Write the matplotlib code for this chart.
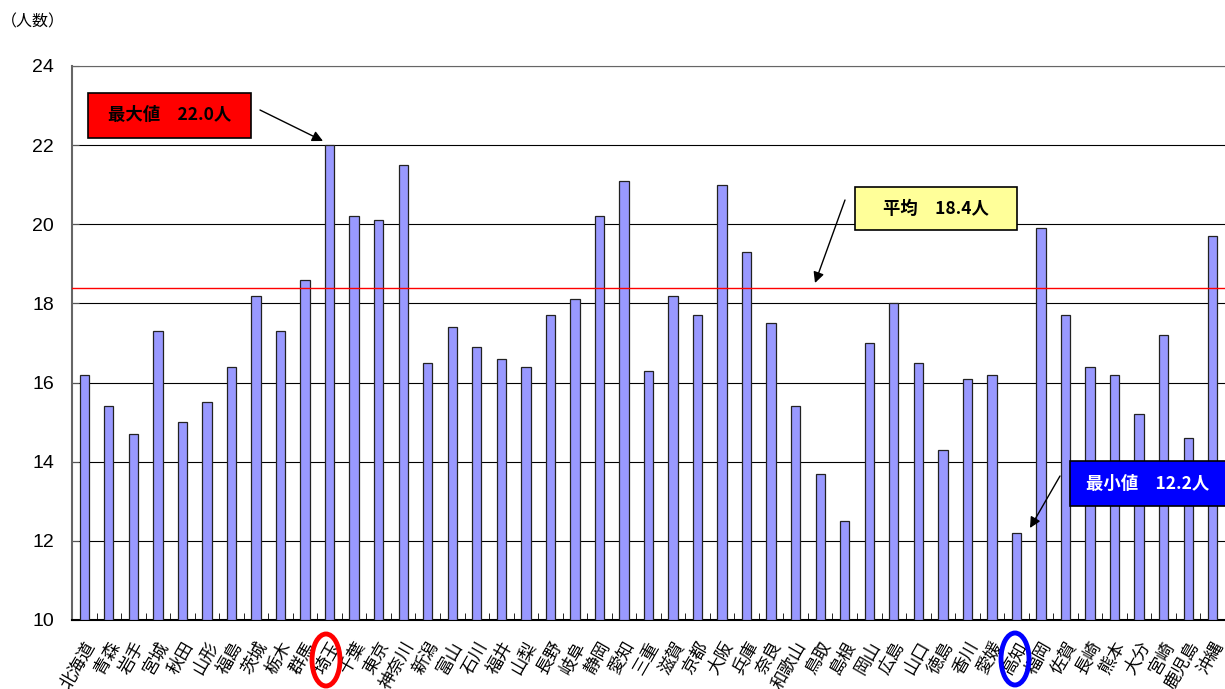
import matplotlib.pyplot as plt
import numpy as np
from matplotlib.patches import Rectangle, Ellipse
from matplotlib.transforms import ScaledTranslation

plt.rcParams['font.family'] = ['Noto Sans CJK JP', 'DejaVu Sans']

prefs = ["北海道", "青森", "岩手", "宮城", "秋田", "山形", "福島", "茨城", "栃木", "群馬",
         "埼玉", "千葉", "東京", "神奈川", "新潟", "富山", "石川", "福井", "山梨", "長野",
         "岐阜", "静岡", "愛知", "三重", "滋賀", "京都", "大阪", "兵庫", "奈良", "和歌山",
         "鳥取", "島根", "岡山", "広島", "山口", "徳島", "香川", "愛媛", "高知", "福岡",
         "佐賀", "長崎", "熊本", "大分", "宮崎", "鹿児島", "沖縄"]
values = [16.2, 15.4, 14.7, 17.3, 15.0, 15.5, 16.4, 18.2, 17.3, 18.6,
          22.0, 20.2, 20.1, 21.5, 16.5, 17.4, 16.9, 16.6, 16.4, 17.7,
          18.1, 20.2, 21.1, 16.3, 18.2, 17.7, 21.0, 19.3, 17.5, 15.4,
          13.7, 12.5, 17.0, 18.0, 16.5, 14.3, 16.1, 16.2, 12.2, 19.9,
          17.7, 16.4, 16.2, 15.2, 17.2, 14.6, 19.7]
mean_value = 18.4
yticks = [10, 12, 14, 16, 18, 20, 22, 24]

W, H = 1225, 689
fig = plt.figure(figsize=(W / 100, H / 100), dpi=100)
ax = fig.add_axes([72 / W, 1 - 620 / H, (W - 72) / W, (620 - 66) / H])


def fpx(x, y):
    # pixel position (top-left origin) -> figure fraction
    return (x / W, 1 - y / H)


x = np.arange(len(prefs))
ax.bar(x, np.array(values) - 10, bottom=10, width=0.38, color="#9999ff",
       edgecolor="#222222", linewidth=0.9, zorder=3)
ax.axhline(mean_value, color="red", linewidth=1, zorder=4)

ax.set_xlim(-0.5, 46.22)
ax.set_ylim(10, 24)
ax.set_yticks(yticks)
ax.set_yticklabels([str(t) for t in yticks], family="Liberation Sans", fontsize=14)
ax.yaxis.grid(True, color="black", linewidth=0.8, zorder=0)
ax.tick_params(axis="y", direction="in", length=5, pad=13, color="#555555")
ax.set_xticks(x)
ax.set_xticklabels(prefs, rotation=60, ha="right", va="center",
                   rotation_mode="anchor", fontsize=12.5)
ax.tick_params(axis="x", length=0, pad=15)
shift = ScaledTranslation(7 / 100, -2 / 100, fig.dpi_scale_trans)
for lbl in ax.get_xticklabels():
    lbl.set_transform(lbl.get_transform() + shift)
ax.set_xticks(np.arange(len(prefs)) + 0.5, minor=True)
ax.tick_params(axis="x", which="minor", direction="in", length=5, color="black")
ax.spines["right"].set_visible(False)
ax.spines["top"].set_color("#666666")
ax.spines["left"].set_color("#666666")
ax.spines["left"].set_linewidth(1.5)
ax.spines["bottom"].set_linewidth(1.5)

fig.text(1 / W, 1 - 22 / H, "（人数）", fontsize=11.5, va="center", ha="left")

# callout boxes
boxes = [
    (88, 93, 251, 138, "red", "black", "最大値　22.0人", 170),
    (855, 187, 1017, 230, "#ffff99", "black", "平均　18.4人", 936),
    (1070, 461, 1240, 506, "blue", "white", "最小値　12.2人", 1148),
]
for x0, y0, x1, y1, fc, tc, txt, cx in boxes:
    fig.add_artist(Rectangle(fpx(x0, y1), (x1 - x0) / W, (y1 - y0) / H,
                             transform=fig.transFigure, facecolor=fc,
                             edgecolor="black", linewidth=1.2, zorder=5))
    fig.text(*fpx(cx, (y0 + y1) / 2), txt, color=tc, fontsize=12.5,
             fontweight="bold", ha="center", va="center", zorder=6)

arrows = [((260, 110), (323, 141)), ((845, 200), (815, 283)), ((1060, 476), (1030, 528))]
for (sx, sy), (ex, ey) in arrows:
    ax.annotate("", xy=fpx(ex, ey), xycoords="figure fraction",
                xytext=fpx(sx, sy), textcoords="figure fraction",
                arrowprops=dict(arrowstyle="-|>", color="black", lw=1,
                                mutation_scale=16, shrinkA=0, shrinkB=0))

# ellipses around labels
for cx, cy, col in [(326, 660, "red"), (1015, 659, "blue")]:
    fig.add_artist(Ellipse(fpx(cx, cy), 28 / W, 52 / H, angle=0,
                           transform=fig.transFigure, fill=False,
                           edgecolor=col, linewidth=3.5, zorder=7))

fig.savefig("out.png", dpi=100)
